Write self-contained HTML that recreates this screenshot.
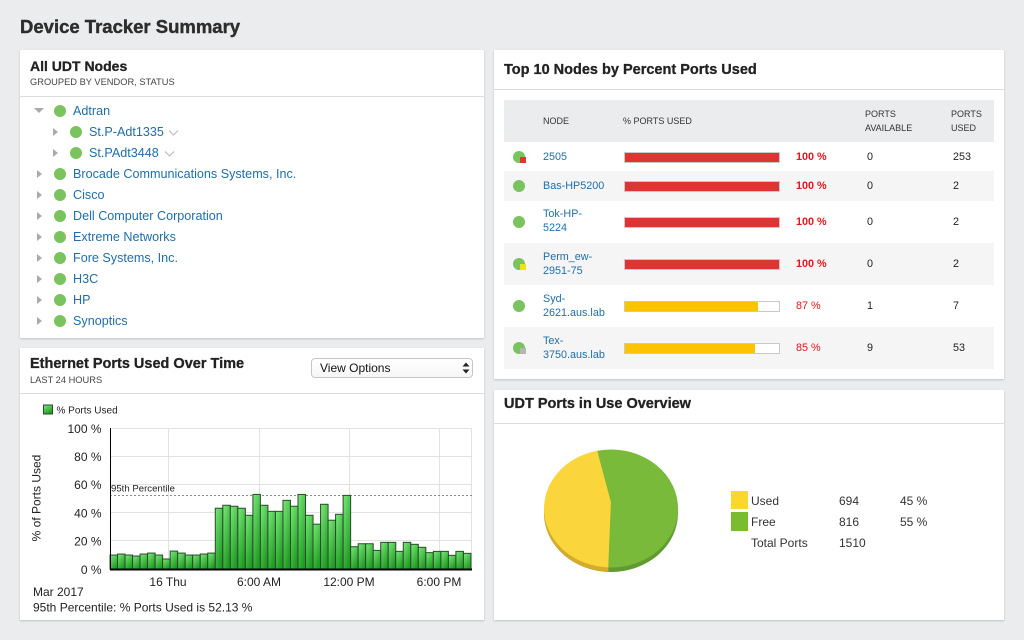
<!DOCTYPE html>
<html><head><meta charset="utf-8"><style>
*{margin:0;padding:0;box-sizing:border-box}
html,body{width:1024px;height:640px;overflow:hidden;background:#ebeced;font-family:"Liberation Sans",Arial,sans-serif;color:#333}
.a{position:absolute;white-space:nowrap}
.panel{position:absolute;background:#fff;box-shadow:0 1px 2px rgba(0,0,0,0.18)}
.hr{position:absolute;height:1px;background:#dcdcdc}
.ptitle{font-weight:bold;font-size:14px;color:#222;-webkit-text-stroke:0.3px #222}
.sub{font-size:9.3px;color:#444}
.tri{position:absolute;width:0;height:0;border-left:5px solid #aaa;border-top:4px solid transparent;border-bottom:4px solid transparent}
.dot{position:absolute;width:12px;height:12px;border-radius:50%;background:#7ac35f}
.lk{position:absolute;white-space:nowrap;font-size:12.6px;color:#1f6eaa;line-height:16px}
.th{position:absolute;font-size:9px;color:#333;line-height:14px;white-space:nowrap}
.td{position:absolute;font-size:10.8px;color:#222;line-height:14.3px;white-space:nowrap}
.nl{color:#1f6eaa}
.bar{position:absolute;left:623.5px;width:156px;height:11px;border:1px solid #c9c9c9;background:#fff}
.bar i{position:absolute;left:0;top:0;bottom:0;display:block}
.pc{position:absolute;left:796px;font-size:10.8px;color:#e8141b;line-height:14px}
.sd{position:absolute;left:513px;width:12px;height:12px;border-radius:50%;background:#7ac35f}
.sq{position:absolute;left:520px;width:6px;height:6px}
</style></head><body>

<div class="a" style="left:20px;top:15px;font-size:18.5px;font-weight:bold;color:#2d2d2d;line-height:24px;-webkit-text-stroke:0.4px #2d2d2d">Device Tracker Summary</div>

<!-- Panel 1 -->
<div class="panel" style="left:20px;top:50px;width:464px;height:288px"></div>
<div class="a ptitle" style="left:30px;top:57px;line-height:18px">All UDT Nodes</div>
<div class="a sub" style="left:30px;top:76px;line-height:12px">GROUPED BY VENDOR, STATUS</div>
<div class="hr" style="left:20px;top:96px;width:464px"></div>

<div style="position:absolute;left:34px;top:108px;width:0;height:0;border-top:5px solid #aaa;border-left:5px solid transparent;border-right:5px solid transparent"></div>
<div class="dot" style="left:54px;top:105px"></div>
<div class="lk" style="left:73px;top:103px">Adtran</div>

<div class="tri" style="left:53px;top:128px"></div>
<div class="dot" style="left:70px;top:126px"></div>
<div class="lk" style="left:89px;top:124px">St.P-Adt1335</div>
<svg class="a" style="left:168px;top:129px" width="12" height="8"><polyline points="1,1.5 5.5,6 10,1.5" fill="none" stroke="#c4c4c4" stroke-width="1.3"/></svg>

<div class="tri" style="left:53px;top:149px"></div>
<div class="dot" style="left:70px;top:147px"></div>
<div class="lk" style="left:89px;top:145px">St.PAdt3448</div>
<svg class="a" style="left:164px;top:150px" width="12" height="8"><polyline points="1,1.5 5.5,6 10,1.5" fill="none" stroke="#c4c4c4" stroke-width="1.3"/></svg>

<div class="tri" style="left:37px;top:170px"></div><div class="dot" style="left:54px;top:168px"></div><div class="lk" style="left:73px;top:166px">Brocade Communications Systems, Inc.</div>
<div class="tri" style="left:37px;top:191px"></div><div class="dot" style="left:54px;top:189px"></div><div class="lk" style="left:73px;top:187px">Cisco</div>
<div class="tri" style="left:37px;top:212px"></div><div class="dot" style="left:54px;top:210px"></div><div class="lk" style="left:73px;top:208px">Dell Computer Corporation</div>
<div class="tri" style="left:37px;top:233px"></div><div class="dot" style="left:54px;top:231px"></div><div class="lk" style="left:73px;top:229px">Extreme Networks</div>
<div class="tri" style="left:37px;top:254px"></div><div class="dot" style="left:54px;top:252px"></div><div class="lk" style="left:73px;top:250px">Fore Systems, Inc.</div>
<div class="tri" style="left:37px;top:275px"></div><div class="dot" style="left:54px;top:273px"></div><div class="lk" style="left:73px;top:271px">H3C</div>
<div class="tri" style="left:37px;top:296px"></div><div class="dot" style="left:54px;top:294px"></div><div class="lk" style="left:73px;top:292px">HP</div>
<div class="tri" style="left:37px;top:317px"></div><div class="dot" style="left:54px;top:315px"></div><div class="lk" style="left:73px;top:313px">Synoptics</div>

<!-- Panel 2 -->
<div class="panel" style="left:20px;top:348px;width:464px;height:272px"></div>
<div class="a ptitle" style="left:30px;top:355px;line-height:18px;font-size:14.5px">Ethernet Ports Used Over Time</div>
<div class="a sub" style="left:30px;top:374px;line-height:12px">LAST 24 HOURS</div>
<div class="hr" style="left:20px;top:393px;width:464px"></div>
<div style="position:absolute;left:311px;top:358px;width:162px;height:20px;border:1px solid #c6c6c6;border-radius:4px;background:linear-gradient(#fff,#f6f6f6)"></div>
<div class="a" style="left:320px;top:360px;font-size:12px;line-height:16px;color:#111">View Options</div>
<svg class="a" style="left:462px;top:362px" width="8" height="12"><polygon points="4,0.5 7.5,4.5 0.5,4.5" fill="#222"/><polygon points="4,11.5 7.5,7.5 0.5,7.5" fill="#222"/></svg>

<!-- Panel 3 -->
<div class="panel" style="left:494px;top:50px;width:510px;height:329px"></div>
<div class="a ptitle" style="left:504px;top:61px;line-height:18px;font-size:14.5px">Top 10 Nodes by Percent Ports Used</div>
<div class="hr" style="left:494px;top:89px;width:510px"></div>
<div style="position:absolute;left:504px;top:100px;width:490px;height:42px;background:#ebecee"></div>
<div style="position:absolute;left:504px;top:171px;width:490px;height:29.5px;background:#f5f5f5"></div>
<div style="position:absolute;left:504px;top:243px;width:490px;height:42px;background:#f5f5f5"></div>
<div style="position:absolute;left:504px;top:327px;width:490px;height:42px;background:#f5f5f5"></div>

<div class="th" style="left:543px;top:114px">NODE</div>
<div class="th" style="left:623px;top:114px">% PORTS USED</div>
<div class="th" style="left:865px;top:107px">PORTS<br>AVAILABLE</div>
<div class="th" style="left:951px;top:107px">PORTS<br>USED</div>

<!-- row1 -->
<div class="sd" style="top:151px"></div><div class="sq" style="top:157px;background:#e8352a"></div>
<div class="td nl" style="left:543px;top:150px">2505</div>
<div class="bar" style="top:151.5px"><i style="width:100%;background:#dd3531"></i></div>
<div class="pc" style="top:150px;font-weight:bold">100 %</div>
<div class="td" style="left:867px;top:150px">0</div><div class="td" style="left:953px;top:150px">253</div>
<!-- row2 -->
<div class="sd" style="top:180px"></div>
<div class="td nl" style="left:543px;top:179px">Bas-HP5200</div>
<div class="bar" style="top:180.5px"><i style="width:100%;background:#dd3531"></i></div>
<div class="pc" style="top:179px;font-weight:bold">100 %</div>
<div class="td" style="left:867px;top:179px">0</div><div class="td" style="left:953px;top:179px">2</div>
<!-- row3 -->
<div class="sd" style="top:216px"></div>
<div class="td nl" style="left:543px;top:207px">Tok-HP-<br>5224</div>
<div class="bar" style="top:216.5px"><i style="width:100%;background:#dd3531"></i></div>
<div class="pc" style="top:215px;font-weight:bold">100 %</div>
<div class="td" style="left:867px;top:215px">0</div><div class="td" style="left:953px;top:215px">2</div>
<!-- row4 -->
<div class="sd" style="top:258px"></div><div class="sq" style="top:264px;background:#f2e01c"></div>
<div class="td nl" style="left:543px;top:250px">Perm_ew-<br>2951-75</div>
<div class="bar" style="top:258.5px"><i style="width:100%;background:#dd3531"></i></div>
<div class="pc" style="top:257px;font-weight:bold">100 %</div>
<div class="td" style="left:867px;top:257px">0</div><div class="td" style="left:953px;top:257px">2</div>
<!-- row5 -->
<div class="sd" style="top:300px"></div>
<div class="td nl" style="left:543px;top:292px">Syd-<br>2621.aus.lab</div>
<div class="bar" style="top:300.5px"><i style="width:87%;background:#fdc300"></i></div>
<div class="pc" style="top:299px">87 %</div>
<div class="td" style="left:867px;top:299px">1</div><div class="td" style="left:953px;top:299px">7</div>
<!-- row6 -->
<div class="sd" style="top:342px"></div><div class="sq" style="top:348px;background:#b5b5b5"></div>
<div class="td nl" style="left:543px;top:334px">Tex-<br>3750.aus.lab</div>
<div class="bar" style="top:342.5px"><i style="width:85%;background:#fdc300"></i></div>
<div class="pc" style="top:341px">85 %</div>
<div class="td" style="left:867px;top:341px">9</div><div class="td" style="left:953px;top:341px">53</div>

<!-- Panel 4 -->
<div class="panel" style="left:494px;top:390px;width:510px;height:230px"></div>
<div class="a ptitle" style="left:504px;top:395px;line-height:18px;font-size:14.5px">UDT Ports in Use Overview</div>
<div class="hr" style="left:494px;top:423px;width:510px"></div>
<div style="position:absolute;left:731px;top:491px;width:17px;height:18px;background:#fbd72e"></div>
<div style="position:absolute;left:731px;top:512px;width:17px;height:19px;background:#79bc30"></div>
<div class="a" style="left:751px;top:493px;font-size:12px;line-height:16px;color:#333">Used</div>
<div class="a" style="left:839px;top:493px;font-size:12px;line-height:16px;color:#333">694</div>
<div class="a" style="left:900px;top:493px;font-size:12px;line-height:16px;color:#333">45 %</div>
<div class="a" style="left:751px;top:514px;font-size:12px;line-height:16px;color:#333">Free</div>
<div class="a" style="left:839px;top:514px;font-size:12px;line-height:16px;color:#333">816</div>
<div class="a" style="left:900px;top:514px;font-size:12px;line-height:16px;color:#333">55 %</div>
<div class="a" style="left:751px;top:535px;font-size:12px;line-height:16px;color:#333">Total Ports</div>
<div class="a" style="left:839px;top:535px;font-size:12px;line-height:16px;color:#333">1510</div>

<svg style="position:absolute;left:0;top:0" width="1024" height="640">
<defs>
<linearGradient id="g" x1="0" y1="0" x2="0.6" y2="1"><stop offset="0" stop-color="#7aea7a"/><stop offset="1" stop-color="#1f9c22"/></linearGradient>
</defs>
<!-- pie -->
<ellipse cx="611" cy="513" rx="67" ry="59" fill="#5f9b30"/>
<path d="M611 506.5 L597.3 455.25 A67 59 0 0 0 608.3 571.95 Z" fill="#d4ab2a"/>
<path d="M611 502 L597.3 450.75 A67 59 0 0 0 608.3 567.45 Z" fill="#fad63c"/>
<path d="M611 502 L608.3 567.45 A67 59 0 1 0 597.3 450.75 Z" fill="#7aba3a"/>

<!-- chart grid -->
<g stroke="#e2e2e2" stroke-width="1" fill="none">
<line x1="110" y1="428.5" x2="472" y2="428.5"/>
<line x1="110" y1="456.5" x2="472" y2="456.5"/>
<line x1="110" y1="484.5" x2="472" y2="484.5"/>
<line x1="110" y1="512.5" x2="472" y2="512.5"/>
<line x1="110" y1="540.5" x2="472" y2="540.5"/>
<line x1="168.5" y1="428" x2="168.5" y2="569"/>
<line x1="259.5" y1="428" x2="259.5" y2="569"/>
<line x1="349.5" y1="428" x2="349.5" y2="569"/>
<line x1="439.5" y1="428" x2="439.5" y2="569"/>
<line x1="471.5" y1="428" x2="471.5" y2="569"/>
</g>
<line x1="110" y1="495.5" x2="472" y2="495.5" stroke="#8a8a8a" stroke-width="1" stroke-dasharray="2,2"/>
<text x="111" y="491.5" font-family="Liberation Sans,Arial,sans-serif" font-size="9.6" fill="#222">95th Percentile</text>
<g fill="url(#g)" stroke="#2c4a2c" stroke-width="1">
<rect x="110.00" y="555.04" width="7.52" height="13.96"/>
<rect x="117.52" y="554.05" width="7.52" height="14.95"/>
<rect x="125.04" y="555.04" width="7.52" height="13.96"/>
<rect x="132.56" y="556.03" width="7.52" height="12.97"/>
<rect x="140.08" y="554.05" width="7.52" height="14.95"/>
<rect x="147.60" y="553.07" width="7.52" height="15.93"/>
<rect x="155.12" y="555.04" width="7.52" height="13.96"/>
<rect x="162.64" y="558.99" width="7.52" height="10.01"/>
<rect x="170.16" y="551.09" width="7.52" height="17.91"/>
<rect x="177.68" y="553.07" width="7.52" height="15.93"/>
<rect x="185.20" y="555.04" width="7.52" height="13.96"/>
<rect x="192.72" y="555.04" width="7.52" height="13.96"/>
<rect x="200.24" y="554.05" width="7.52" height="14.95"/>
<rect x="207.76" y="553.07" width="7.52" height="15.93"/>
<rect x="215.28" y="508.23" width="7.52" height="60.77"/>
<rect x="222.80" y="505.27" width="7.52" height="63.73"/>
<rect x="230.32" y="506.25" width="7.52" height="62.75"/>
<rect x="237.84" y="508.23" width="7.52" height="60.77"/>
<rect x="245.36" y="515.28" width="7.52" height="53.72"/>
<rect x="252.88" y="494.41" width="7.52" height="74.59"/>
<rect x="260.40" y="505.27" width="7.52" height="63.73"/>
<rect x="267.92" y="511.33" width="7.52" height="57.67"/>
<rect x="275.44" y="511.33" width="7.52" height="57.67"/>
<rect x="282.96" y="500.33" width="7.52" height="68.67"/>
<rect x="290.48" y="506.25" width="7.52" height="62.75"/>
<rect x="298.00" y="494.41" width="7.52" height="74.59"/>
<rect x="305.52" y="515.28" width="7.52" height="53.72"/>
<rect x="313.04" y="524.16" width="7.52" height="44.84"/>
<rect x="320.56" y="504.28" width="7.52" height="64.72"/>
<rect x="328.08" y="520.21" width="7.52" height="48.79"/>
<rect x="335.60" y="514.29" width="7.52" height="54.71"/>
<rect x="343.12" y="495.40" width="7.52" height="73.60"/>
<rect x="350.64" y="546.72" width="7.52" height="22.28"/>
<rect x="358.16" y="543.76" width="7.52" height="25.24"/>
<rect x="365.68" y="543.76" width="7.52" height="25.24"/>
<rect x="373.20" y="550.39" width="7.52" height="18.61"/>
<rect x="380.72" y="542.35" width="7.52" height="26.65"/>
<rect x="388.24" y="542.35" width="7.52" height="26.65"/>
<rect x="395.76" y="551.37" width="7.52" height="17.63"/>
<rect x="403.28" y="542.35" width="7.52" height="26.65"/>
<rect x="410.80" y="544.32" width="7.52" height="24.68"/>
<rect x="418.32" y="547.29" width="7.52" height="21.71"/>
<rect x="425.84" y="552.64" width="7.52" height="16.36"/>
<rect x="433.36" y="551.37" width="7.52" height="17.63"/>
<rect x="440.88" y="551.37" width="7.52" height="17.63"/>
<rect x="448.40" y="555.32" width="7.52" height="13.68"/>
<rect x="455.92" y="551.37" width="7.52" height="17.63"/>
<rect x="463.44" y="553.35" width="7.52" height="15.65"/>
</g>
<line x1="110.5" y1="428" x2="110.5" y2="570" stroke="#000" stroke-width="1"/>
<line x1="110" y1="569.5" x2="472" y2="569.5" stroke="#000" stroke-width="2"/>

<g font-family="Liberation Sans,Arial,sans-serif" font-size="12" fill="#222">
<text x="101.5" y="433" text-anchor="end">100 %</text>
<text x="101.5" y="461" text-anchor="end">80 %</text>
<text x="101.5" y="489" text-anchor="end">60 %</text>
<text x="101.5" y="517.5" text-anchor="end">40 %</text>
<text x="101.5" y="545.5" text-anchor="end">20 %</text>
<text x="101.5" y="574" text-anchor="end">0 %</text>
<text x="168" y="586" text-anchor="middle">16 Thu</text>
<text x="259" y="586" text-anchor="middle">6:00 AM</text>
<text x="349" y="586" text-anchor="middle">12:00 PM</text>
<text x="439" y="586" text-anchor="middle">6:00 PM</text>
<text x="33" y="596">Mar 2017</text>
<text x="33" y="611.5">95th Percentile: % Ports Used is 52.13 %</text>
<text x="0" y="0" transform="translate(40.5,498) rotate(-90)" text-anchor="middle">% of Ports Used</text>
</g>
<rect x="43.5" y="405" width="9" height="9" fill="url(#g)" stroke="#2c4a2c" stroke-width="1"/>
<text x="56.5" y="413.5" font-family="Liberation Sans,Arial,sans-serif" font-size="10" fill="#222">% Ports Used</text>
</svg>
</body></html>
